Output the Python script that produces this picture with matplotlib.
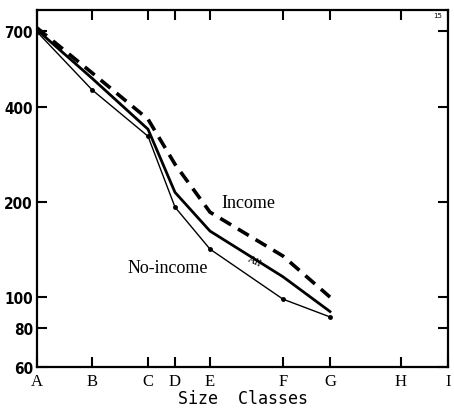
import matplotlib
matplotlib.use("Agg")
import matplotlib.pyplot as plt

# Size classes and their positions along the x axis
classes = ["A", "B", "C", "D", "E", "F", "G", "H", "I"]
class_pos = [0, 55, 111, 138, 173, 246, 293, 364, 411]

# Series values at classes A..G
income = [715, 515, 367, 264, 186, 135, 100]
all_hh = [705, 495, 341, 215, 162, 116, 90]
no_income = [695, 455, 324, 193, 142, 98.5, 86.5]

yticks = [60, 80, 100, 200, 400, 700]

fig = plt.figure(figsize=(4.54, 4.10), dpi=100)
ax = fig.add_axes([37/454, 42/410, 411/454, 357/410])
ax.set_yscale("log")
ax.set_ylim(60, 815)
ax.set_xlim(class_pos[0], class_pos[-1])

xs = class_pos[:len(income)]
ax.plot(xs, income, color="black", lw=2.6, linestyle=(0, (3.5, 2.2)), solid_capstyle="butt")
ax.plot(xs, all_hh, color="black", lw=2.0)
ax.plot(xs, no_income, color="black", lw=1.0, marker="o", markersize=2.5)

ax.set_yticks(yticks)
ax.set_yticklabels([str(v) for v in yticks], fontsize=11, fontfamily="DejaVu Sans", fontweight="bold", fontstretch="condensed")
ax.yaxis.set_minor_locator(matplotlib.ticker.NullLocator())
ax.set_xticks(class_pos)
ax.set_xticklabels(classes, fontsize=12, fontfamily="Liberation Serif")
ax.tick_params(axis="both", direction="in", length=7, width=1.5, top=True, right=True, pad=3)
ax.tick_params(axis="x", pad=4)
for s in ax.spines.values():
    s.set_linewidth(1.6)

ax.set_xlabel("Size  Classes", fontsize=12, fontfamily="DejaVu Sans Mono", labelpad=0)

ax.text(211, 200, "Income", fontsize=13, fontfamily="Liberation Serif", ha="center", va="center")
ax.text(131, 124.5, "No-income", fontsize=13, fontfamily="Liberation Serif", ha="center", va="center")
ax.text(218, 130, "All", fontsize=8, fontfamily="Liberation Serif", ha="center", va="center", rotation=-25)
ax.text(0.985, 0.995, "15", transform=ax.transAxes, fontsize=5, ha="right", va="top")

fig.savefig("out.png", dpi=100)
